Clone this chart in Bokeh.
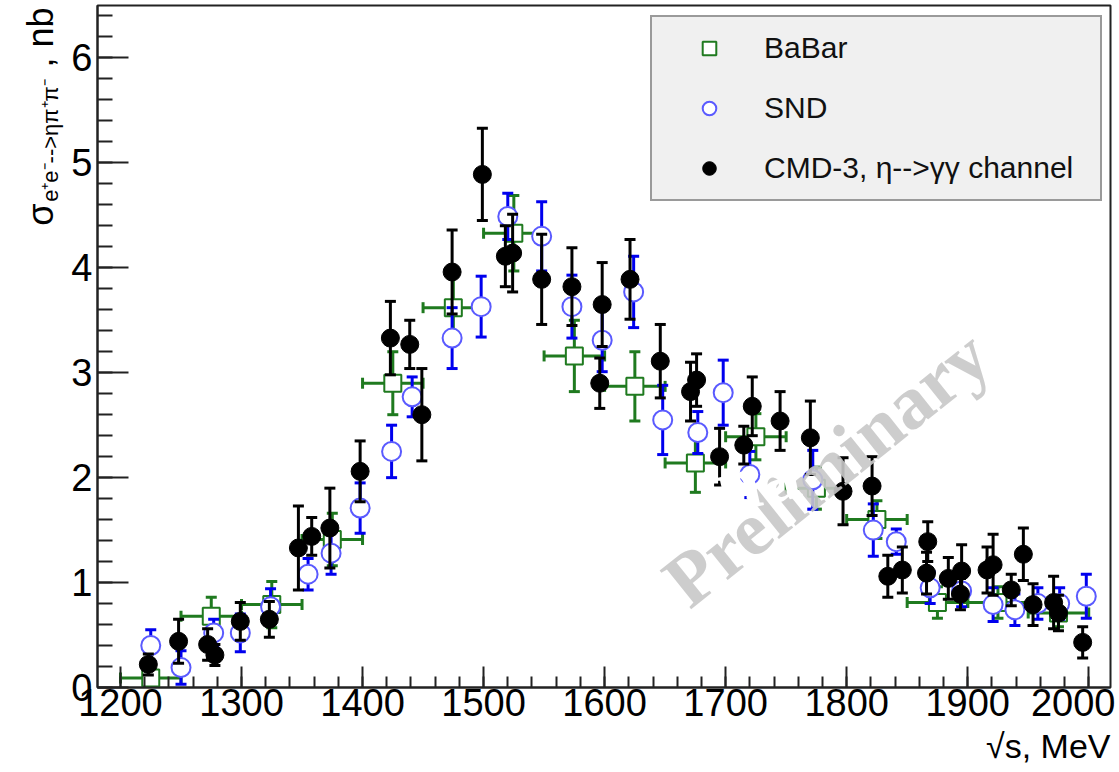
import numpy as np
from bokeh.plotting import figure
from bokeh.models import Range1d, FixedTicker, Label, Legend, LegendItem, Title
from bokeh.layouts import row
from bokeh.core.properties import value
from bokeh.embed import file_html
from bokeh.resources import INLINE

# ---------------- data ----------------
babar_x = [1225, 1275, 1325, 1375, 1425, 1475, 1525, 1575, 1625, 1675, 1725, 1775, 1825, 1875, 1925, 1975]
babar_dx = [25, 25, 25, 25, 25, 25, 25, 25, 25, 25, 25, 25, 25, 25, 25, 25]
babar_y = [0.09, 0.68, 0.79, 1.41, 2.90, 3.62, 4.33, 3.16, 2.87, 2.14, 2.39, 1.90, 1.60, 0.81, 0.81, 0.71]
babar_err = [0.08, 0.18, 0.22, 0.25, 0.30, 0.30, 0.36, 0.34, 0.33, 0.28, 0.22, 0.20, 0.18, 0.15, 0.15, 0.13]

snd_x = [1225, 1250, 1277, 1299, 1324, 1355, 1374, 1398, 1424, 1441, 1474, 1498, 1520, 1548, 1573, 1598,
         1624, 1648, 1677, 1698, 1720, 1772, 1822, 1841, 1869, 1895, 1921, 1939, 1958, 1976, 1998]
snd_y = [0.40, 0.19, 0.52, 0.52, 0.77, 1.08, 1.28, 1.71, 2.25, 2.77, 3.33, 3.63, 4.49, 4.30, 3.63, 3.31,
         3.77, 2.55, 2.43, 2.81, 2.03, 1.98, 1.50, 1.39, 0.95, 0.92, 0.79, 0.74, 0.80, 0.80, 0.87]
snd_err = [0.15, 0.16, 0.13, 0.18, 0.17, 0.15, 0.20, 0.24, 0.25, 0.19, 0.29, 0.29, 0.22, 0.33, 0.30, 0.30,
           0.34, 0.33, 0.20, 0.31, 0.22, 0.28, 0.25, 0.12, 0.15, 0.15, 0.16, 0.15, 0.15, 0.15, 0.21]

cmd_x = [1223, 1248, 1272, 1278, 1299, 1323, 1347, 1358, 1373, 1398, 1423, 1439, 1449, 1474, 1499, 1518,
         1524, 1548, 1573, 1598, 1596, 1621, 1646, 1671, 1676, 1695, 1715, 1722, 1745, 1770, 1797, 1821,
         1834, 1846, 1866, 1867, 1884, 1894, 1895, 1916, 1921, 1936, 1946, 1954, 1971, 1975, 1995]
cmd_y = [0.22, 0.44, 0.41, 0.31, 0.63, 0.65, 1.33, 1.44, 1.52, 2.06, 3.33, 3.27, 2.60, 3.96, 4.89, 4.11,
         4.14, 3.89, 3.82, 3.65, 2.90, 3.89, 3.11, 2.82, 2.93, 2.20, 2.31, 2.68, 2.54, 2.38, 1.87, 1.92,
         1.06, 1.12, 1.09, 1.39, 1.04, 0.89, 1.11, 1.12, 1.17, 0.93, 1.27, 0.79, 0.81, 0.71, 0.43]
cmd_err = [0.10, 0.21, 0.15, 0.10, 0.18, 0.17, 0.40, 0.18, 0.38, 0.29, 0.35, 0.23, 0.44, 0.40, 0.44, 0.29,
           0.37, 0.43, 0.37, 0.40, 0.24, 0.38, 0.35, 0.28, 0.25, 0.27, 0.18, 0.28, 0.28, 0.35, 0.32, 0.28,
           0.20, 0.22, 0.20, 0.19, 0.20, 0.15, 0.25, 0.22, 0.29, 0.15, 0.25, 0.20, 0.25, 0.17, 0.15]

x_ticks = [1200, 1300, 1400, 1500, 1600, 1700, 1800, 1900, 2000]
y_ticks = [0, 1, 2, 3, 4, 5, 6]
series_names = ["BaBar", "SND", "CMD-3, η-->γγ channel"]
y_title = ["σ", "e⁺e⁻-->ηπ⁺π⁻", ", nb"]
x_title = "√s, MeV"

# ---------------- styles ----------------
GREEN = "#1f7a1f"
BLUE = "#0000ee"
BLUE_MK = "#5a5aff"
BLACK = "#000000"
SANS = "Liberation Sans"

LEFT_W = 66
H = 771

p = figure(width=1115 - LEFT_W, height=H,
           x_range=Range1d(1181, 2018), y_range=Range1d(0, 6.5),
           output_backend="svg", toolbar_location=None,
           min_border_left=97 - LEFT_W, min_border_right=5, min_border_top=5, min_border_bottom=83,
           background_fill_color="white", border_fill_color="white")
p.grid.visible = False
p.outline_line_color = "#222222"
p.outline_line_width = 2

# axes
p.xaxis.ticker = FixedTicker(ticks=x_ticks, minor_ticks=list(range(1200, 2001, 20)))
p.yaxis.ticker = FixedTicker(ticks=y_ticks, minor_ticks=[i / 5 for i in range(0, 33)])
for ax in (p.xaxis[0], p.yaxis[0]):
    ax.axis_line_color = "#222222"
    ax.axis_line_width = 2
    ax.major_tick_line_color = "#222222"
    ax.minor_tick_line_color = "#222222"
    ax.major_tick_line_width = 2
    ax.minor_tick_line_width = 2
    ax.major_tick_out = 0
    ax.minor_tick_out = 0
    ax.major_label_text_font = SANS
    ax.major_label_text_font_size = "38px"
    ax.major_label_text_color = "black"
p.xaxis.major_tick_in = 21
p.xaxis.minor_tick_in = 11
p.xaxis.major_label_standoff = 1
p.yaxis.major_tick_in = 31
p.yaxis.minor_tick_in = 15
p.yaxis.major_label_standoff = 5

# x-axis title, right-aligned below the axis
p.add_layout(Title(text=x_title, align="right", text_font=SANS, text_font_size="34px",
                   text_font_style="normal", text_color="black", standoff=13), "below")

# ---------------- BaBar ----------------
bx = np.array(babar_x, float); bdx = np.array(babar_dx, float)
by = np.array(babar_y); be = np.array(babar_err)
p.segment(bx - bdx, by, bx + bdx, by, line_color=GREEN, line_width=3)
p.segment(bx, by - be, bx, by + be, line_color=GREEN, line_width=3)
p.scatter(np.concatenate([bx, bx]), np.concatenate([by - be, by + be]),
          marker="dash", size=11, line_color=GREEN, line_width=3)
p.scatter(np.concatenate([bx - bdx, bx + bdx]), np.concatenate([by, by]),
          marker="dash", angle=np.pi / 2, size=11, line_color=GREEN, line_width=3)
r_babar = p.scatter(bx, by, marker="square", size=17, line_color=GREEN, line_width=2,
                    fill_color="white")

# ---------------- SND ----------------
sx = np.array(snd_x, float); sy = np.array(snd_y); se = np.array(snd_err)
p.segment(sx, sy - se, sx, sy + se, line_color=BLUE, line_width=3)
p.scatter(np.concatenate([sx, sx]), np.concatenate([sy - se, sy + se]),
          marker="dash", size=11, line_color=BLUE, line_width=3)
r_snd = p.scatter(sx, sy, marker="circle", size=19, line_color=BLUE_MK, line_width=2,
                  fill_color="white")

# ---------------- CMD-3 ----------------
cx = np.array(cmd_x, float); cy = np.array(cmd_y); ce = np.array(cmd_err)
p.segment(cx, cy - ce, cx, cy + ce, line_color=BLACK, line_width=3)
p.scatter(np.concatenate([cx, cx]), np.concatenate([cy - ce, cy + ce]),
          marker="dash", size=11, line_color=BLACK, line_width=3)
r_cmd = p.scatter(cx, cy, marker="circle", size=18, line_color=BLACK, fill_color=BLACK)

# ---------------- watermark texts ----------------
p.add_layout(Label(x=1657, y=0.93, text="Preliminary", angle=0.675,
                   text_baseline="alphabetic",
                   text_font="Liberation Serif", text_font_style="bold",
                   text_font_size="76px", text_color="#c8c8c8", text_alpha=0.9))
p.add_layout(Label(x=1692, y=1.9, text="na", angle=0.22,
                   text_baseline="alphabetic",
                   text_font="Liberation Serif", text_font_style="bold",
                   text_font_size="80px", text_color="white"))

# ---------------- legend ----------------
legend = Legend(items=[LegendItem(label=series_names[0], renderers=[r_babar]),
                       LegendItem(label=series_names[1], renderers=[r_snd]),
                       LegendItem(label=series_names[2], renderers=[r_cmd])],
                location=(553, 486), orientation="vertical",
                background_fill_color="#f0f0f0", background_fill_alpha=1,
                border_line_color="#444444", border_line_width=2,
                label_text_font=SANS, label_text_font_size="30px", label_text_color="#111111",
                glyph_width=86, glyph_height=34, label_height=34, label_width=322,
                spacing=26, padding=14, label_standoff=12, margin=0)
p.add_layout(legend)

# ---------------- y-axis title strip (left) ----------------
lf = figure(width=LEFT_W, height=H, x_range=Range1d(0, LEFT_W), y_range=Range1d(0, H),
            x_axis_type=None, y_axis_type=None, output_backend="svg", toolbar_location=None,
            min_border=0, outline_line_color=None,
            background_fill_color="white", border_fill_color="white")
lf.grid.visible = False
lf.text(x=[40], y=[H - 249], text=[y_title[0]], angle=np.pi / 2,
        text_align="left", text_baseline="middle",
        text_font=value(SANS), text_font_size="36px", text_color="black")
lf.text(x=[50], y=[H - 222], text=[y_title[1]], angle=np.pi / 2,
        text_align="left", text_baseline="middle",
        text_font=value(SANS), text_font_size="22px", text_color="black")
lf.text(x=[40], y=[H - 70], text=[y_title[2]], angle=np.pi / 2,
        text_align="left", text_baseline="middle",
        text_font=value(SANS), text_font_size="36px", text_color="black")

layout = row(lf, p, spacing=0)
open("out.html", "w").write(file_html(layout, INLINE))
